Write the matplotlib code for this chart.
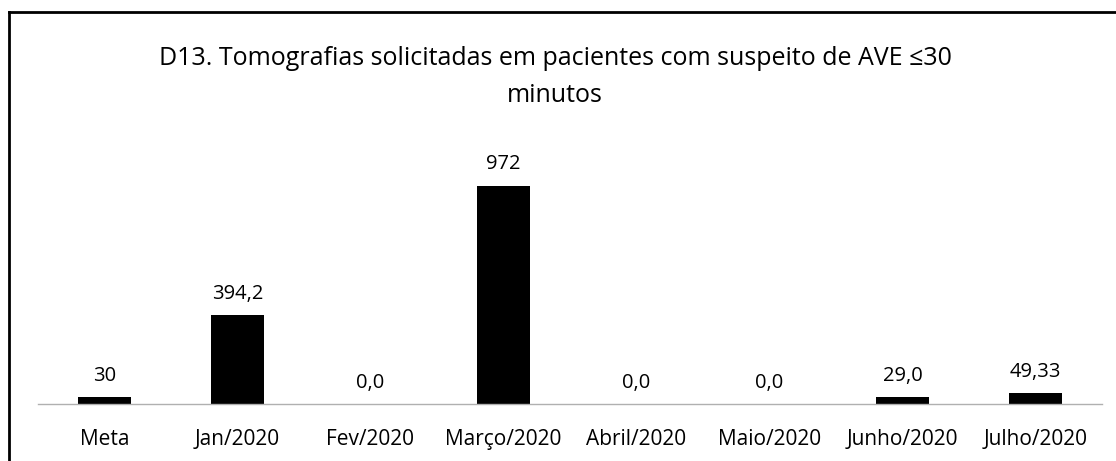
import matplotlib
matplotlib.use('Agg')
import matplotlib.pyplot as plt
from matplotlib.lines import Line2D

categories = ['Meta', 'Jan/2020', 'Fev/2020', 'Março/2020', 'Abril/2020',
              'Maio/2020', 'Junho/2020', 'Julho/2020']
values = [30, 394.2, 0.0, 972, 0.0, 0.0, 29.0, 49.33]
value_labels = ['30', '394,2', '0,0', '972', '0,0', '0,0', '29,0', '49,33']

plt.rcParams['font.family'] = ['Open Sans', 'DejaVu Sans']

W, H = 1116, 461
fig = plt.figure(figsize=(W / 100, H / 100), dpi=100)

# axes placed in pixel terms
left, right = 38, 1102
bottom, top = 404, 168
ax = fig.add_axes([left / W, 1 - bottom / H, (right - left) / W, (bottom - top) / H])

x = range(len(categories))
ax.bar(x, values, width=0.4, color='black')
for i, (v, lab) in enumerate(zip(values, value_labels)):
    ax.annotate(lab, (i, v), xytext=(0, 8), textcoords='offset points',
                ha='center', va='bottom', fontsize=14.5)

ax.set_xlim(-0.5, len(categories) - 0.5)
ax.set_ylim(0, 1050)
ax.set_xticks(list(x))
ax.set_xticklabels(categories, fontsize=15)
ax.tick_params(axis='x', length=0, pad=18)
ax.set_yticks([])
for s in ['top', 'right', 'left']:
    ax.spines[s].set_visible(False)
ax.spines['bottom'].set_color('#b0b0b0')
ax.spines['bottom'].set_linestyle((0, (1, 1)))
ax.spines['bottom'].set_linewidth(1.0)

fig.text(555 / W, 1 - 77 / H, 'D13. Tomografias solicitadas em pacientes com suspeito de AVE ≤30\nminutos',
         ha='center', va='center', fontsize=18, linespacing=1.6)

# outer frame (top and left edges)
fig.add_artist(Line2D([9 / W, 1.0], [1 - 12 / H, 1 - 12 / H], color='black', lw=2, transform=fig.transFigure))
fig.add_artist(Line2D([9 / W, 9 / W], [0, 1 - 12 / H], color='black', lw=2, transform=fig.transFigure))

plt.savefig('out.png', dpi=100)
